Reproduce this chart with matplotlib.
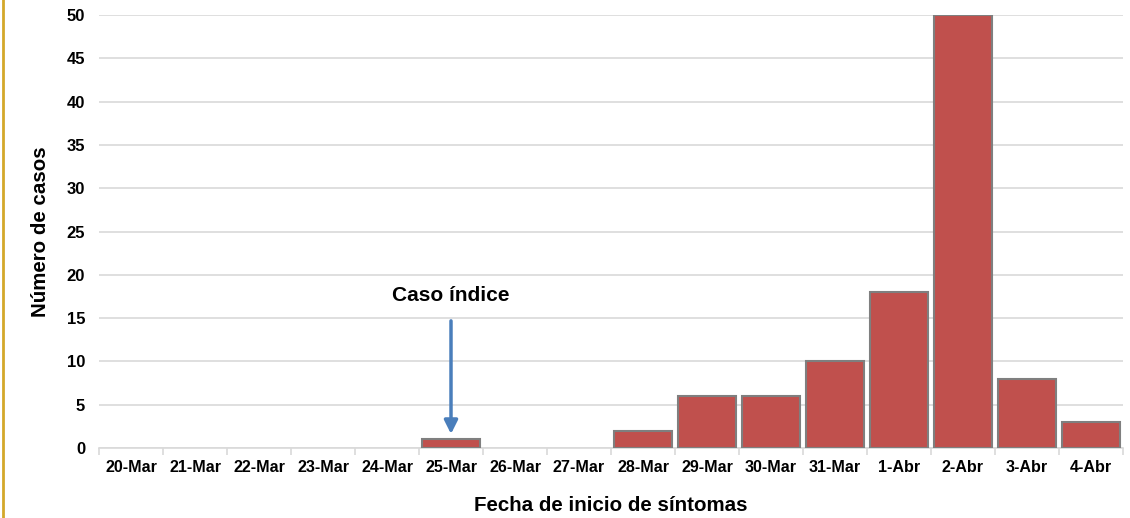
import matplotlib
matplotlib.use("Agg")
import matplotlib.pyplot as plt
from matplotlib.lines import Line2D
import numpy as np

categories = ["20-Mar", "21-Mar", "22-Mar", "23-Mar", "24-Mar", "25-Mar", "26-Mar", "27-Mar",
              "28-Mar", "29-Mar", "30-Mar", "31-Mar", "1-Abr", "2-Abr", "3-Abr", "4-Abr"]
cases = [0, 0, 0, 0, 0, 1, 0, 0, 2, 6, 6, 10, 18, 50, 8, 3]
yticks = [0, 5, 10, 15, 20, 25, 30, 35, 40, 45, 50]
annot_text = "Caso índice"
annot_index = 5

plt.rcParams['font.family'] = ['Liberation Sans', 'DejaVu Sans']

fig = plt.figure(figsize=(11.3, 5.18), dpi=100)
ax = fig.add_axes([99/1130, 1-448/518, (1123-99)/1130, (448-15)/518])

x = np.arange(len(categories))
edges = ["#7F7F7F" if v > 0 else "none" for v in cases]
ax.bar(x, cases, width=0.91, color="#C0504D", edgecolor=edges, linewidth=1.5, zorder=3)

ax.set_xlim(-0.5, len(categories)-0.5)
ax.set_ylim(0, 50)
ax.set_yticks(yticks)
ax.set_yticklabels([str(v) for v in yticks], fontsize=12, fontweight='bold')
ax.yaxis.grid(True, color="#D9D9D9", linewidth=1.2, zorder=0)
ax.set_axisbelow(True)
ax.tick_params(axis='y', length=0, pad=10)

ax.set_xticks(x)
ax.set_xticklabels(categories, fontsize=11.6, fontweight='bold')
ax.tick_params(axis='x', length=0, pad=9)
ax.set_xticks(np.arange(-0.5, len(categories), 1), minor=True)
ax.tick_params(axis='x', which='minor', length=5, color="#D9D9D9", width=1.2)

for s in ['top', 'right', 'left']:
    ax.spines[s].set_visible(False)
ax.spines['bottom'].set_color("#D9D9D9")
ax.spines['bottom'].set_linewidth(1.2)

ax.set_ylabel("Número de casos", fontsize=14.8, fontweight='bold', labelpad=12)
ax.set_xlabel("Fecha de inicio de síntomas", fontsize=14.8, fontweight='bold', labelpad=15)

ax.annotate("", xy=(annot_index, 1.3), xytext=(annot_index, 15),
            arrowprops=dict(arrowstyle="-|>,head_length=0.8,head_width=0.4", color="#4A7EBB", lw=2.5),
            zorder=5)
ax.text(annot_index, 17.6, annot_text, ha='center', va='center', fontsize=15, fontweight='bold')

fig.add_artist(Line2D([2.5/1130, 2.5/1130], [0, 1], color="#D4A82A", linewidth=2))

fig.savefig("out.png", dpi=100)
